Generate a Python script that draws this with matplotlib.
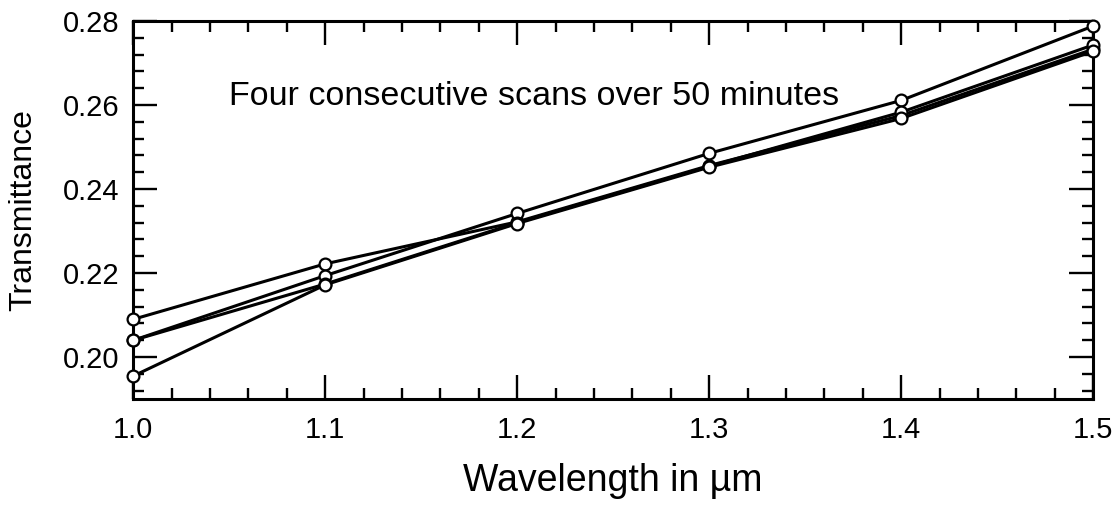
import matplotlib
matplotlib.use("Agg")
import matplotlib.pyplot as plt
from matplotlib.ticker import MultipleLocator

plt.rcParams['font.family'] = ['Liberation Sans', 'DejaVu Sans']

wavelength = [1.0, 1.1, 1.2, 1.3, 1.4, 1.5]
scan1 = [0.209, 0.2222, 0.2322, 0.2456, 0.2575, 0.2733]
scan2 = [0.204, 0.2194, 0.2342, 0.2485, 0.2611, 0.2788]
scan3 = [0.204, 0.2174, 0.2320, 0.2454, 0.2583, 0.2743]
scan4 = [0.1955, 0.2172, 0.2318, 0.2452, 0.2568, 0.2728]
scans = [scan1, scan2, scan3, scan4]

fig = plt.figure(figsize=(11.2, 5.13), dpi=100)
ax = fig.add_axes([0.119, 0.222, 0.857, 0.737])

for s in scans:
    ax.plot(wavelength, s, color='black', lw=2.2, marker='o', ms=8.5,
            mfc='white', mec='black', mew=1.6, clip_on=False, zorder=3)

ax.set_xlim(1.0, 1.5)
ax.set_ylim(0.19, 0.28)
ax.xaxis.set_major_locator(MultipleLocator(0.1))
ax.xaxis.set_minor_locator(MultipleLocator(0.02))
ax.yaxis.set_major_locator(MultipleLocator(0.02))
ax.yaxis.set_minor_locator(MultipleLocator(0.004))
ax.xaxis.set_major_formatter(matplotlib.ticker.FormatStrFormatter('%.1f'))
ax.yaxis.set_major_formatter(matplotlib.ticker.FormatStrFormatter('%.2f'))

ax.tick_params(which='both', direction='in', top=True, right=True, width=1.7,
               labelsize=21)
ax.tick_params(which='major', length=17)
ax.tick_params(which='minor', length=8)
ax.tick_params(axis='x', pad=12)
ax.tick_params(axis='y', pad=10)
for sp in ax.spines.values():
    sp.set_linewidth(2.2)

ax.set_xlabel('Wavelength in µm', fontsize=27, labelpad=14)
ax.set_ylabel('Transmittance', fontsize=23, labelpad=18)

ax.text(1.209, 0.262, 'Four consecutive scans over 50 minutes',
        fontsize=24.5, ha='center', va='center')

fig.savefig('out.png', dpi=100)
